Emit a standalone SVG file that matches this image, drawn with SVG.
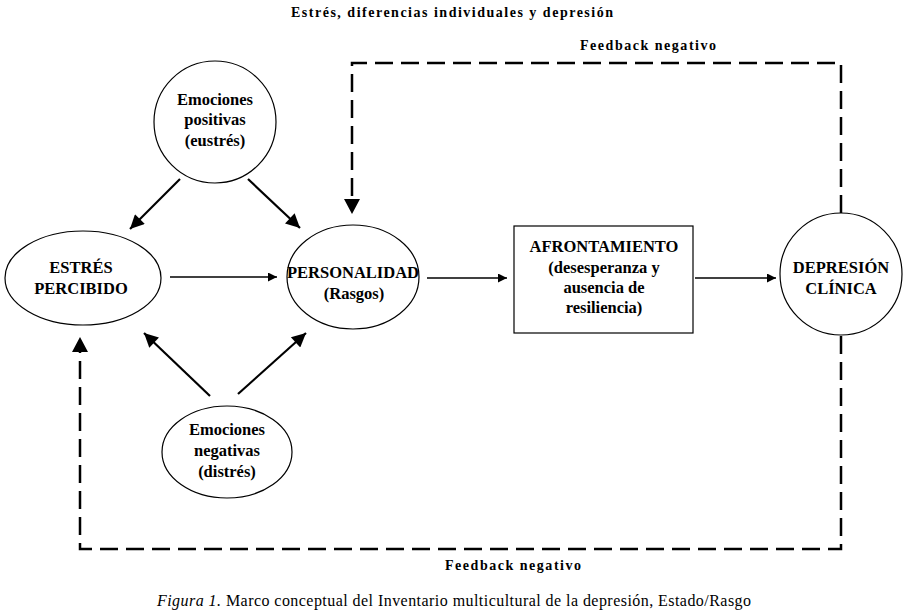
<svg xmlns="http://www.w3.org/2000/svg" width="910" height="615" viewBox="0 0 910 615">
<style>
text{font-family:'Liberation Serif','DejaVu Serif',serif;fill:#000;text-anchor:middle}
.t{font-weight:bold;font-size:16.5px}
.h{font-weight:bold;font-size:14px}
.c{font-size:16px}
.n{fill:#fff;stroke:#000;stroke-width:1.2}
.d{fill:none;stroke:#000;stroke-width:2.5;stroke-dasharray:18 8}
.a{fill:none;stroke:#000;stroke-width:2.2}
.s{fill:none;stroke:#000;stroke-width:1.3}
</style>
<defs>
<marker id="big" viewBox="0 0 10 10" refX="10" refY="5" markerUnits="userSpaceOnUse" markerWidth="16" markerHeight="14" orient="auto">
<path d="M0,0 L10,5 L0,10 z" fill="#000"/>
</marker>
<marker id="sm" viewBox="0 0 10 10" refX="10" refY="5" markerUnits="userSpaceOnUse" markerWidth="13" markerHeight="9" orient="auto">
<path d="M0,0 L10,5 L0,10 z" fill="#000"/>
</marker>
</defs>
<rect width="910" height="615" fill="#fff"/>
<text class="h" x="452" y="17" textLength="322" lengthAdjust="spacing">Estrés, diferencias individuales y depresión</text>

<g id="connectors">
<path class="d" d="M841,213 V63 H352 V200"/>
<path d="M344,199 L352,214 L360,199 z" fill="#000"/>
<path class="d" d="M841,336 V549 H80 V352"/>
<path d="M72,352 L80,337 L88,352 z" fill="#000"/>
<line class="a" x1="180" y1="179" x2="130" y2="229" marker-end="url(#big)"/>
<line class="a" x1="248" y1="179" x2="300" y2="228" marker-end="url(#big)"/>
<line class="a" x1="210" y1="396" x2="144" y2="333" marker-end="url(#big)"/>
<line class="a" x1="238" y1="394" x2="306" y2="333" marker-end="url(#big)"/>
<line class="s" x1="170" y1="277" x2="277" y2="277" marker-end="url(#sm)"/>
<line class="s" x1="427" y1="278" x2="507" y2="278" marker-end="url(#sm)"/>
<line class="s" x1="695" y1="278" x2="776" y2="278" marker-end="url(#sm)"/>
</g>

<g id="emociones-positivas">
<circle class="n" cx="215" cy="122" r="61"/>
<text class="t" x="215" y="105">Emociones</text>
<text class="t" x="215" y="125">positivas</text>
<text class="t" x="215" y="146">(eustrés)</text>
</g>

<g id="estres-percibido">
<ellipse class="n" cx="83" cy="278" rx="78" ry="47"/>
<text class="t" x="81" y="273">ESTRÉS</text>
<text class="t" x="81" y="294">PERCIBIDO</text>
</g>

<g id="personalidad">
<ellipse class="n" cx="353" cy="277" rx="66" ry="52"/>
<text class="t" x="353" y="278">PERSONALIDAD</text>
<text class="t" x="354" y="299">(Rasgos)</text>
</g>

<g id="afrontamiento">
<rect class="n" x="514" y="226" width="179" height="107"/>
<text class="t" x="604" y="252">AFRONTAMIENTO</text>
<text class="t" x="604" y="273">(desesperanza  y</text>
<text class="t" x="604" y="293">ausencia  de</text>
<text class="t" x="604" y="313">resiliencia)</text>
</g>

<g id="depresion-clinica">
<circle class="n" cx="841" cy="274" r="61"/>
<text class="t" x="841" y="273">DEPRESIÓN</text>
<text class="t" x="841" y="294">CLÍNICA</text>
</g>

<g id="emociones-negativas">
<ellipse class="n" cx="227" cy="452" rx="65" ry="46"/>
<text class="t" x="227" y="435">Emociones</text>
<text class="t" x="227" y="456">negativas</text>
<text class="t" x="227" y="477">(distrés)</text>
</g>

<text class="h" x="648" y="50" textLength="136" lengthAdjust="spacing">Feedback negativo</text>
<text class="h" x="513" y="570" textLength="136" lengthAdjust="spacing">Feedback negativo</text>
<text class="c" x="454" y="606" textLength="594" lengthAdjust="spacing"><tspan font-style="italic">Figura 1.</tspan> Marco conceptual del Inventario multicultural de la depresión, Estado/Rasgo</text>
</svg>
